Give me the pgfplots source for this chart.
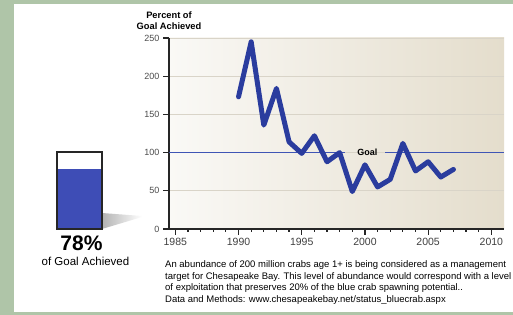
\documentclass[border=0pt]{standalone}
\usepackage{fontspec}
\setmainfont{Liberation Sans}
\usepackage{pgfplots}
\pgfplotsset{compat=1.18}
\definecolor{crab}{HTML}{2A3C9E}
\definecolor{goalblue}{HTML}{3F55B5}
\definecolor{gaugeblue}{HTML}{3E4DB6}
\definecolor{bgL}{HTML}{FAF9F6}
\definecolor{bgR}{HTML}{E4DDCC}
\definecolor{frameG}{HTML}{AFC5A8}
\definecolor{gridc}{HTML}{D9D4C8}
\begin{document}
\begin{tikzpicture}[x=1pt,y=1pt]
\fill[frameG] (0,0) rectangle (513,315);
\fill[white] (14,3) rectangle (513,311);
\useasboundingbox (0,0) rectangle (513,315);
% main chart
\begin{axis}[
  at={(169pt,86pt)}, anchor=south west, scale only axis,
  width=335pt, height=191pt,
  xmin=1984.5, xmax=2011, ymin=0, ymax=250,
  axis x line*=bottom, axis y line*=left,
  axis line style={-, line width=1.3pt, black!85},
  axis background/.style={shade, left color=bgL, right color=bgR},
  xtick={1985,1990,...,2010}, minor x tick num=4,
  ytick={0,50,...,250},
  ymajorgrids, grid style={gridc, line width=0.9pt},
  tick align=outside,
  major tick length=6pt, minor tick length=3pt,
  tick style={black!85, line width=1.2pt},
  xticklabel style={/pgf/number format/1000 sep={}, font=\fontsize{10.5}{11}\selectfont, text=black!75},
  yticklabel style={font=\fontsize{9}{10}\selectfont, text=black!70},
  /pgf/number format/assume math mode=true,
  clip=false,
]
\addplot[goalblue, line width=1.1pt] coordinates {(1984.5,100) (1998.4,100)};
\addplot[goalblue, line width=1.1pt] coordinates {(2001.6,100) (2011,100)};
\node[font=\bfseries\fontsize{9}{10}\selectfont] at (axis cs:2000.2,100) {Goal};
\addplot[crab, line width=5pt, line join=round, line cap=round] coordinates {
(1990,173) (1991,245) (1992,136) (1993,184) (1994,114) (1995,99) (1996,122)
(1997,88) (1998,100) (1999,49) (2000,84) (2001,55) (2002,65) (2003,112)
(2004,76) (2005,88) (2006,68) (2007,78)};
\end{axis}
\node[align=center, font=\bfseries\fontsize{9.3}{10.5}\selectfont] at (169,294.5) {Percent of\\Goal Achieved};
% gauge
\shade[left color=black!30, right color=white] (102,86) -- (102,102) -- (142,99) -- (142,98) -- cycle;
\begin{axis}[
  at={(57pt,86pt)}, anchor=south west, scale only axis,
  width=45pt, height=77pt,
  xmin=0, xmax=1, ymin=0, ymax=100, hide axis, clip=false,
]
\addplot[ybar, bar width=1, bar shift=0, fill=white, draw=none] coordinates {(0.5,100)};
\addplot[ybar, bar width=1, bar shift=0, fill=gaugeblue, draw=none] coordinates {(0.5,78)};
\addplot[ybar, bar width=1, bar shift=0, fill=none, draw=black!85, line width=1.3pt] coordinates {(0.5,100)};
\end{axis}
\node[font=\bfseries\fontsize{21}{23}\selectfont] at (81.5,72) {78\%};
\node[font=\fontsize{11.5}{13}\selectfont] at (85.5,54) {of Goal Achieved};
\node[anchor=north west, align=left, inner sep=0pt, font=\fontsize{9.5}{11.5}\selectfont] at (165,54.5) {An abundance of 200 million crabs age 1+ is being considered as a management\\target for Chesapeake Bay. This level of abundance would correspond with a level\\of exploitation that preserves 20\% of the blue crab spawning potential..\\Data and Methods: www.chesapeakebay.net/status\_bluecrab.aspx};
\end{tikzpicture}
\end{document}
